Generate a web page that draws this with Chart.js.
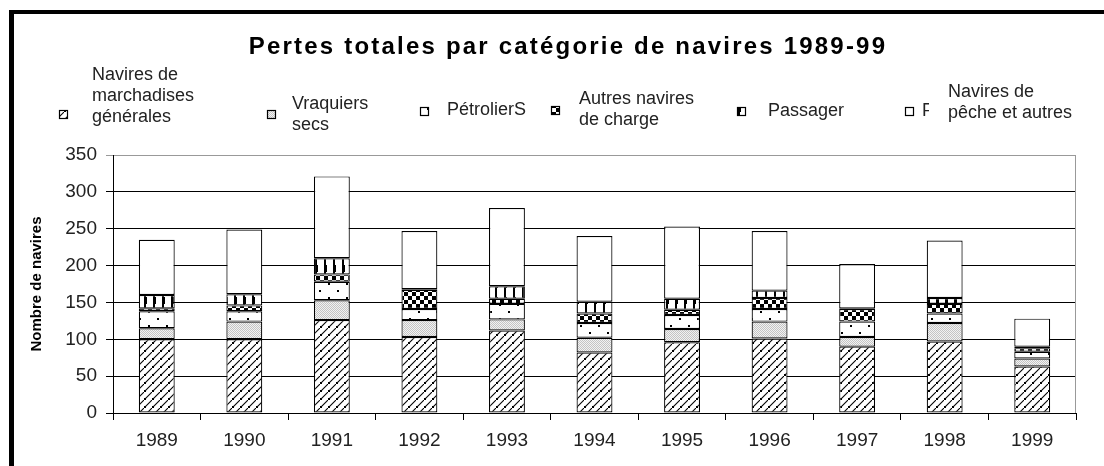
<!DOCTYPE html>
<html lang="fr">
<head>
    <meta charset="UTF-8">
    <title>Pertes totales par catégorie de navires 1989-99</title>
    <script src="https://cdn.jsdelivr.net/npm/chart.js"></script>
    <style>
        body {
            margin: 0;
            background-color: #ffffff;
            font-family: "Liberation Sans", Arial, sans-serif;
        }
        #wrap {
            position: relative;
            width: 1104px;
            height: 466px;
            overflow: hidden;
        }
        #frame {
            position: absolute;
            left: 9px;
            top: 10px;
            width: 1100px;
            height: 470px;
            border-left: 5px solid #000;
            border-top: 4px solid #000;
        }
        canvas {
            position: absolute;
            left: 0;
            top: 0;
        }
    </style>
</head>
<body>
<div id="wrap">
    <div id="frame"></div>
    <canvas id="myChart" width="1104" height="466"></canvas>
</div>

<script>
    // données
    const years = ['1989', '1990', '1991', '1992', '1993', '1994', '1995', '1996', '1997', '1998', '1999'];
    const marchandises = [100, 100, 126, 103, 112, 82, 96, 101, 90, 97, 63];
    const vraquiers = [15, 24, 27, 23, 15, 20, 18, 23, 13, 25, 11];
    const petroliers = [23, 14, 25, 15, 21, 20, 19, 17, 21, 13, 9];
    const autresCharge = [4, 8, 10, 26, 7, 13, 7, 15, 17, 13, 5];
    const passagers = [18, 15, 22, 1, 17, 16, 15, 10, 1, 8, 2];
    const peche = [75, 88, 111, 79, 106, 89, 98, 81, 60, 78, 38];
    const yTicks = [0, 50, 100, 150, 200, 250, 300, 350];

    const chartTitle = 'Pertes totales par catégorie de navires 1989-99';
    const seriesLabels = [
        ['Navires de', 'marchadises', 'générales'],
        ['Vraquiers', 'secs'],
        ['PétrolierS'],
        ['Autres navires', 'de charge'],
        ['Passager'],
        ['Navires de', 'pêche et autres']
    ];

    const FONT = '"Liberation Sans", Arial, sans-serif';

    // motifs noir et blanc
    function makePattern(w, h, draw) {
        const c = document.createElement('canvas');
        c.width = w;
        c.height = h;
        const g = c.getContext('2d');
        g.fillStyle = '#fff';
        g.fillRect(0, 0, w, h);
        draw(g);
        return c.getContext('2d').createPattern(c, 'repeat');
    }

    const patHatch = makePattern(8, 8, g => {
        g.strokeStyle = '#000';
        g.lineWidth = 1.1;
        g.beginPath();
        g.moveTo(-1, 9); g.lineTo(9, -1);
        g.stroke();
        g.fillStyle = '#000';
        g.fillRect(0, 6, 2, 2);
    });
    const patGrey = makePattern(2, 2, g => {
        g.fillStyle = '#f2f2f2';
        g.fillRect(0, 0, 2, 2);
        g.fillStyle = '#c4c4c4';
        g.fillRect(0, 0, 1, 1);
        g.fillRect(1, 1, 1, 1);
    });
    const patDots = makePattern(18, 14, g => {
        g.fillStyle = '#000';
        g.fillRect(4, 3, 2, 2);
        g.fillRect(13, 10, 2, 2);
    });
    const patChecker = makePattern(8, 8, g => {
        g.fillStyle = '#000';
        g.fillRect(0, 0, 4, 4);
        g.fillRect(4, 4, 4, 4);
    });
    const patStripes = makePattern(9, 16, g => {
        g.fillStyle = '#000';
        g.fillRect(0, 0, 2, 16);
        g.fillRect(0, 9, 3, 7);
    });

    const fills = [patHatch, patGrey, patDots, patChecker, patStripes, '#ffffff'];
    const seriesData = [marchandises, vraquiers, petroliers, autresCharge, passagers, peche];

    // position des éléments de légende (carré, texte)
    const legendPos = [
        {sx: 59, sy: 110, tx: 92, ty: 96},
        {sx: 267, sy: 110, tx: 292, ty: 115},
        {sx: 420, sy: 107, tx: 447, ty: 110},
        {sx: 551, sy: 106, tx: 579, ty: 110},
        {sx: 737, sy: 107, tx: 768, ty: 111},
        {sx: 905, sy: 107, tx: 948, ty: 103}
    ];

    const decorPlugin = {
        id: 'decor',
        afterDraw(chart) {
            const ctx = chart.ctx;
            ctx.save();
            // titre
            ctx.font = 'bold 24px ' + FONT;
            ctx.fillStyle = '#000';
            ctx.textAlign = 'center';
            ctx.textBaseline = 'middle';
            ctx.letterSpacing = '2.2px';
            ctx.fillText(chartTitle, 568, 47);
            ctx.letterSpacing = '0px';

            // légende
            ctx.font = '18px ' + FONT;
            ctx.textAlign = 'left';
            seriesLabels.forEach((lines, i) => {
                const p = legendPos[i];
                ctx.fillStyle = fills[i];
                ctx.fillRect(p.sx, p.sy, 8, 8);
                ctx.strokeStyle = '#000';
                ctx.lineWidth = 1.2;
                ctx.strokeRect(p.sx + 0.5, p.sy + 0.5, 8, 8);
                ctx.fillStyle = '#222';
                const lh = 21;
                const y0 = p.ty - (lines.length - 1) * lh / 2;
                lines.forEach((t, k) => ctx.fillText(t, p.tx, y0 + k * lh));
            });
            // le "F" coupé à côté du dernier carré
            ctx.save();
            ctx.beginPath();
            ctx.rect(922, 95, 7, 30);
            ctx.clip();
            ctx.fillText('F', 922, 111);
            ctx.restore();

            // bord droit gris de la zone de tracé
            const a = chart.chartArea;
            ctx.strokeStyle = '#999';
            ctx.lineWidth = 1;
            ctx.beginPath();
            ctx.moveTo(a.right - 0.5, a.top);
            ctx.lineTo(a.right - 0.5, a.bottom);
            ctx.stroke();
            ctx.restore();
        }
    };

    const ctx = document.getElementById('myChart').getContext('2d');
    new Chart(ctx, {
        type: 'bar',
        data: {
            labels: years,
            datasets: seriesData.map((d, i) => ({
                label: seriesLabels[i].join(' '),
                data: d,
                backgroundColor: fills[i],
                borderColor: '#000',
                borderWidth: 1.2,
                borderSkipped: false,
                categoryPercentage: 1,
                barPercentage: 0.41
            }))
        },
        options: {
            responsive: false,
            animation: false,
            devicePixelRatio: 1,
            layout: {
                padding: {left: 0, right: 28, top: 155, bottom: 0}
            },
            scales: {
                x: {
                    stacked: true,
                    afterFit(scale) { scale.height = 53; },
                    grid: {
                        drawOnChartArea: false,
                        color: '#000',
                        tickLength: 7,
                        offset: true
                    },
                    border: {color: '#000', width: 1},
                    ticks: {
                        color: '#222',
                        padding: 9,
                        font: {size: 19, family: FONT}
                    }
                },
                y: {
                    stacked: true,
                    min: 0,
                    max: 350,
                    afterFit(scale) { scale.width = 113; },
                    afterBuildTicks(scale) {
                        scale.ticks = yTicks.map(v => ({value: v}));
                    },
                    grid: {
                        color: c => (c.tick && c.tick.value === 350) ? '#999' : '#000',
                        tickLength: 7,
                        lineWidth: 1
                    },
                    border: {color: '#000', width: 1},
                    ticks: {
                        color: '#222',
                        padding: 9,
                        font: {size: 19, family: FONT}
                    },
                    title: {
                        display: true,
                        text: 'Nombre de navires',
                        color: '#000',
                        padding: {top: 28, bottom: 0},
                        font: {size: 15, weight: 'bold', family: FONT}
                    }
                }
            },
            plugins: {
                legend: {display: false},
                tooltip: {enabled: false},
                title: {display: false}
            }
        },
        plugins: [decorPlugin]
    });
</script>
</body>
</html>
